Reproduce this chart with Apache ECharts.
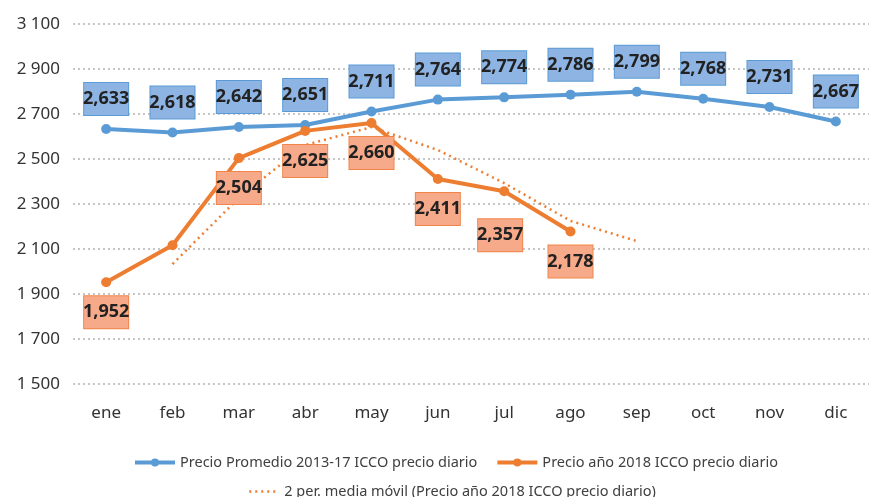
<!DOCTYPE html>
<html>
<head>
<meta charset="utf-8">
<script src="https://cdn.jsdelivr.net/npm/echarts@6/dist/echarts.min.js"></script>
<style>
  html, body { margin: 0; padding: 0; background: #ffffff; }
  #chart { width: 869px; height: 497px; }
</style>
</head>
<body>
<div id="chart"></div>
<script>
// categorías y valores
const months = ['ene', 'feb', 'mar', 'abr', 'may', 'jun', 'jul', 'ago', 'sep', 'oct', 'nov', 'dic'];
const avg2013_17 = [2633, 2618, 2642, 2651, 2711, 2764, 2774, 2786, 2799, 2768, 2731, 2667];
const price2018 = [1952, 2117, 2504, 2625, 2660, 2411, 2357, 2178, null, null, null, null];
const movingAvg = [null, 2033, 2327, 2562, 2642, 2540, 2393, 2225, 2135, null, null, null];
const hide2018Label = [false, true, false, false, false, false, false, false];

const nameAvg = 'Precio Promedio 2013-17 ICCO precio diario';
const name2018 = 'Precio año 2018 ICCO precio diario';
const nameMA = '2 per. media móvil (Precio año 2018 ICCO precio diario)';

const blue = '#5b9bd5';
const orange = '#ed7d31';

// etiqueta tipo caja (como en Excel)
const boxLabel = (fill, border, pos) => ({
  show: true,
  position: pos,
  distance: 9,
  width: 44,
  lineHeight: 20,
  padding: [6, 0, 6, 0],
  align: 'center',
  backgroundColor: fill,
  borderColor: border,
  borderWidth: 1,
  color: '#222222',
  fontFamily: 'Noto Sans',
  fontWeight: 'bold',
  fontSize: 18,
  formatter: (p) => p.value.toLocaleString('en-US')
});

const legendText = { color: '#404040', fontSize: 14.5, fontFamily: 'Noto Sans' };

const myChart = echarts.init(document.getElementById('chart'));

const option = {
  backgroundColor: '#ffffff',
  animation: false,
  textStyle: { fontFamily: 'Noto Sans' },
  grid: { left: 73, right: -3, top: 24, bottom: 113 },
  legend: [
    {
      data: [
        { name: nameAvg, lineStyle: { width: 4 } },
        { name: name2018, lineStyle: { width: 4 } }
      ],
      top: 450,
      left: 128,
      itemWidth: 40,
      itemHeight: 10,
      itemGap: 18,
      textStyle: legendText
    },
    {
      data: [
        { name: nameMA, itemStyle: { color: 'transparent', borderWidth: 0 }, lineStyle: { width: 2.5 } }
      ],
      top: 479,
      left: 243,
      itemWidth: 30,
      itemHeight: 10,
      textStyle: legendText
    }
  ],
  xAxis: {
    type: 'category',
    data: months,
    boundaryGap: true,
    axisLine: { show: false },
    axisTick: { show: false },
    axisLabel: { color: '#333333', fontSize: 17, margin: 21 }
  },
  yAxis: {
    type: 'value',
    min: 1500,
    max: 3100,
    interval: 200,
    axisLine: { show: false },
    axisTick: { show: false },
    axisLabel: {
      color: '#333333',
      fontSize: 17,
      margin: 13,
      formatter: (v) => String(v).replace(/\B(?=(\d{3})+(?!\d))/g, ' ')
    },
    splitLine: { lineStyle: { color: '#b4b4b4', type: [2, 3], width: 1.5 } }
  },
  series: [
    {
      name: nameAvg,
      type: 'line',
      data: avg2013_17,
      symbol: 'circle',
      symbolSize: 10,
      lineStyle: { color: blue, width: 4 },
      itemStyle: { color: blue },
      label: boxLabel('#8db4e2', '#5b9bd5', 'top'),
      z: 3
    },
    {
      name: name2018,
      type: 'line',
      data: price2018.map((v, i) => ({
        value: v,
        label: {
          show: v !== null && !hide2018Label[i],
          // la etiqueta de jul está más abajo en el original
          offset: i === 6 ? [-4, 14] : [0, 0]
        }
      })),
      symbol: 'circle',
      symbolSize: 10,
      lineStyle: { color: orange, width: 4 },
      itemStyle: { color: orange },
      label: boxLabel('#f7aa8a', '#f08449', 'bottom'),
      z: 4
    },
    {
      name: nameMA,
      type: 'line',
      data: movingAvg,
      symbol: 'none',
      lineStyle: { color: orange, width: 2.5, type: [2, 4] },
      itemStyle: { color: orange },
      z: 2
    }
  ]
};

myChart.setOption(option);
</script>
</body>
</html>
